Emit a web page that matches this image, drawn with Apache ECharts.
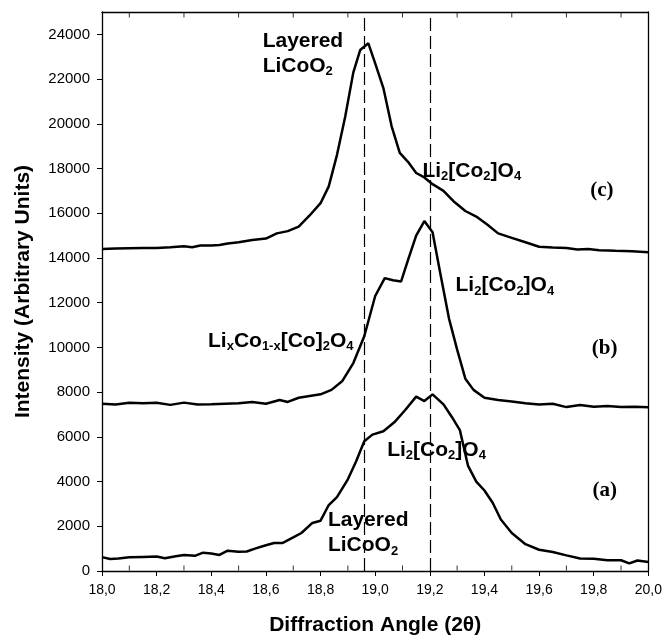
<!DOCTYPE html>
<html>
<head>
<meta charset="utf-8">
<script src="https://cdn.jsdelivr.net/npm/echarts@6/dist/echarts.min.js"></script>
<style>
html, body { margin: 0; padding: 0; background: #fff; }
#xrd { width: 665px; height: 643px; }
</style>
</head>
<body>
<div id="xrd"></div>
<script>
// curve (a)
var angleA = [18.0,18.03,18.06,18.1,18.15,18.2,18.23,18.27,18.3,18.34,
  18.37,18.4,18.43,18.46,18.5,18.53,18.56,18.6,18.63,18.66,
  18.7,18.73,18.77,18.8,18.83,18.86,18.9,18.93,18.96,18.99,
  19.03,19.07,19.11,19.15,19.18,19.21,19.25,19.28,19.31,19.34,
  19.37,19.4,19.43,19.46,19.5,19.55,19.6,19.65,19.7,19.75,
  19.8,19.85,19.9,19.93,19.96,20.0];
var intensityA = [620,540,560,610,630,650,570,660,720,680,
  820,780,720,910,860,870,1000,1150,1250,1250,
  1500,1700,2150,2250,2950,3300,4100,4900,5800,6100,
  6250,6650,7200,7800,7600,7900,7450,6900,6300,4700,
  4000,3600,3050,2300,1700,1200,950,850,700,560,
  550,480,480,340,470,400];

// curve (b)
var angleB = [18.0,18.05,18.1,18.15,18.2,18.25,18.3,18.35,18.4,18.45,
  18.5,18.55,18.6,18.65,18.68,18.72,18.76,18.8,18.84,18.88,
  18.92,18.96,19.0,19.035,19.065,19.095,19.12,19.15,19.18,19.21,
  19.24,19.27,19.3,19.33,19.36,19.4,19.45,19.5,19.55,19.6,
  19.65,19.7,19.75,19.8,19.85,19.9,19.95,20.0];
var intensityB = [7480,7450,7520,7500,7520,7430,7530,7450,7460,7480,
  7500,7560,7480,7650,7560,7750,7830,7900,8100,8500,
  9300,10500,12300,13100,13000,12950,13900,15000,15650,15150,
  13200,11300,9900,8600,8100,7750,7650,7580,7500,7450,
  7480,7330,7420,7350,7380,7330,7350,7320];

// curve (c)
var angleC = [18.0,18.05,18.1,18.15,18.2,18.25,18.3,18.33,18.36,18.4,
  18.43,18.46,18.5,18.55,18.6,18.64,18.68,18.72,18.76,18.8,
  18.83,18.86,18.89,18.92,18.945,18.975,19.0,19.03,19.06,19.09,
  19.12,19.15,19.18,19.21,19.25,19.29,19.33,19.37,19.41,19.45,
  19.5,19.55,19.6,19.65,19.7,19.74,19.78,19.82,19.88,19.94,20.0];
var intensityC = [14400,14420,14430,14440,14450,14480,14520,14480,14560,14560,
  14580,14650,14700,14800,14870,15100,15200,15400,15900,16450,
  17200,18600,20300,22300,23300,23600,22700,21600,19900,18700,
  18300,17800,17600,17300,17000,16500,16100,15850,15500,15100,
  14900,14700,14500,14470,14450,14380,14400,14350,14320,14300,14250];

// dashed reference positions
var refAngles = [18.96, 19.2];

// axis ranges and ticks
var xMin = 18, xMax = 20;
var yMin = 0, yMax = 25000;
var yTicks = [0,2000,4000,6000,8000,10000,12000,14000,16000,18000,20000,22000,24000];
var xInnerTicks = [18.1,18.3,18.5,18.7,18.9,19.1,19.3,19.5,19.7,19.9];

// annotations
var noteText = [
  '{b|Layered}\n{b|LiCoO}{s|2}',
  '{b|Li}{s|2}{b|[Co}{s|2}{b|]O}{s|4}',
  '{p|(c)}',
  '{b|Li}{s|2}{b|[Co}{s|2}{b|]O}{s|4}',
  '{b|Li}{s|x}{b|Co}{s|1-x}{b|[Co]}{s|2}{b|O}{s|4}',
  '{p|(b)}',
  '{b|Li}{s|2}{b|[Co}{s|2}{b|]O}{s|4}',
  '{p|(a)}',
  '{b|Layered}\n{b|LiCoO}{s|2}'
];
var noteAngle = [18.588, 19.173, 19.83, 19.294, 18.388, 19.84, 19.044, 19.84, 18.827];
var noteIntensity = [23150, 17900, 17000, 12780, 10290, 9930, 5420, 3580, 1710];
var noteAnchor = ['left','left','center','left','left','center','left','center','left'];

function pairs(xs, ys) {
  return xs.map(function (x, i) { return [x, ys[i]]; });
}

var richStyles = {
  b: { fontFamily: 'Liberation Sans', fontWeight: 'bold', fontSize: 21, lineHeight: 25, color: '#000' },
  s: { fontFamily: 'Liberation Sans', fontWeight: 'bold', fontSize: 13, lineHeight: 14, verticalAlign: 'bottom', color: '#000' },
  p: { fontFamily: 'Liberation Serif', fontWeight: 'bold', fontSize: 21, lineHeight: 24, color: '#000' }
};

var noteData = noteText.map(function (t, i) {
  var left = noteAnchor[i] === 'left';
  return {
    value: [noteAngle[i], noteIntensity[i]],
    label: {
      show: true,
      formatter: t,
      position: left ? 'right' : 'inside',
      distance: 0,
      align: left ? 'left' : 'center',
      color: '#000',
      opacity: 1,
      textBorderWidth: 0,
      rich: richStyles
    }
  };
});

function curve(name, xs, ys) {
  return {
    name: name,
    type: 'line',
    data: pairs(xs, ys),
    showSymbol: false,
    symbol: 'none',
    lineStyle: { color: '#000', width: 2.5 },
    silent: true,
    z: 3
  };
}

var seriesC = curve('c', angleC, intensityC);
seriesC.markLine = {
  silent: true,
  symbol: ['none', 'none'],
  label: { show: false },
  lineStyle: { color: '#000', type: [13, 5], width: 1.2, opacity: 1 },
  data: refAngles.map(function (a) { return { xAxis: a }; })
};

// short inward ticks between the labelled ones, on the bottom and top edges
function innerTicks(name, yEdge, offset) {
  return {
    name: name,
    type: 'scatter',
    symbol: 'rect',
    symbolSize: [1, 5],
    symbolOffset: [0, offset],
    itemStyle: { color: '#000' },
    silent: true,
    clip: false,
    z: 4,
    data: xInnerTicks.map(function (x) { return [x, yEdge]; })
  };
}

var chart = echarts.init(document.getElementById('xrd'), null, { renderer: 'canvas' });
var option = {
  animation: false,
  backgroundColor: '#fff',
  grid: { left: 102, right: 16, top: 12, bottom: 72 },
  xAxis: [
    {
      type: 'value', min: xMin, max: xMax, interval: 0.2, position: 'bottom',
      name: 'Diffraction Angle (2\u03b8)',
      nameLocation: 'middle', nameGap: 44,
      nameTextStyle: { fontFamily: 'Liberation Sans', fontWeight: 'bold', fontSize: 21, color: '#000' },
      axisLine: { show: true, onZero: false, lineStyle: { color: '#000', width: 1.3 } },
      axisTick: { show: true, length: 5, lineStyle: { color: '#000' } },
      axisLabel: {
        margin: 12, color: '#000', fontFamily: 'Liberation Sans', fontSize: 14,
        formatter: function (v) { return v.toFixed(1).replace('.', ','); }
      },
      splitLine: { show: false }
    },
    {
      type: 'value', min: xMin, max: xMax, interval: 0.2, position: 'top',
      axisLine: { show: true, onZero: false, lineStyle: { color: '#000', width: 1.3 } },
      axisTick: { show: false },
      axisLabel: { show: false },
      splitLine: { show: false }
    }
  ],
  yAxis: [
    {
      type: 'value', min: yMin, max: yMax, position: 'left',
      name: 'Intensity (Arbitrary Units)',
      nameLocation: 'middle', nameGap: 68,
      nameTextStyle: { fontFamily: 'Liberation Sans', fontWeight: 'bold', fontSize: 21, color: '#000' },
      axisLine: { show: true, onZero: false, lineStyle: { color: '#000', width: 1.3 } },
      axisTick: { show: true, length: 5, customValues: yTicks, lineStyle: { color: '#000' } },
      axisLabel: {
        margin: 12, color: '#000', fontFamily: 'Liberation Sans', fontSize: 15, customValues: yTicks,
        formatter: function (v) { return String(v); }
      },
      splitLine: { show: false }
    },
    {
      type: 'value', min: yMin, max: yMax, position: 'right',
      axisLine: { show: true, onZero: false, lineStyle: { color: '#000', width: 1.3 } },
      axisTick: { show: false },
      axisLabel: { show: false },
      splitLine: { show: false }
    }
  ],
  series: [
    curve('a', angleA, intensityA),
    curve('b', angleB, intensityB),
    seriesC,
    innerTicks('ticksBottom', yMin, -3),
    innerTicks('ticksTop', yMax, 3),
    {
      name: 'notes',
      type: 'scatter',
      symbolSize: 0,
      silent: true,
      z: 5,
      data: noteData
    }
  ]
};
chart.setOption(option);
</script>
</body>
</html>
